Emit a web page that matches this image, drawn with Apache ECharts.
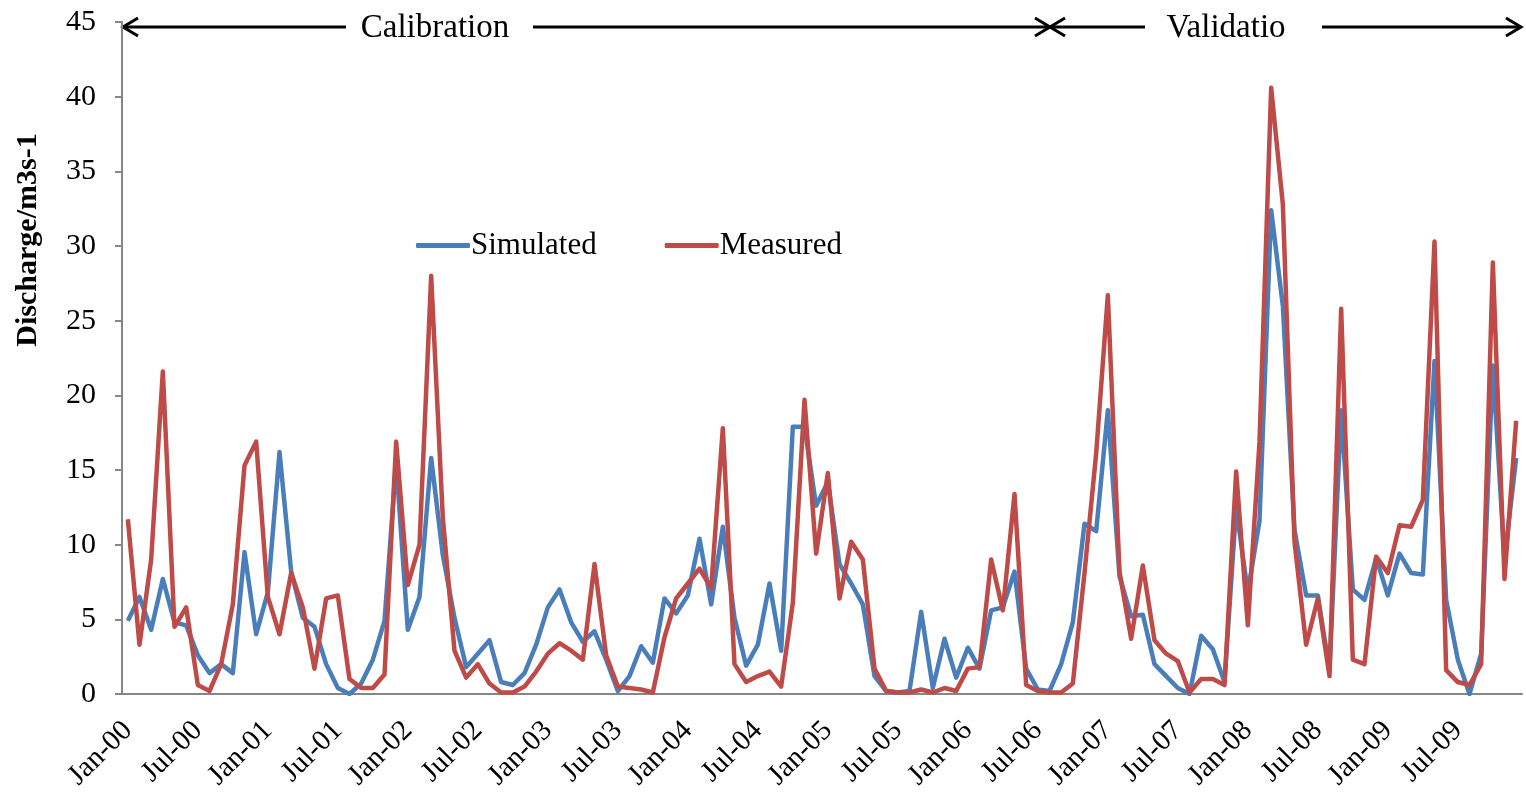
<!DOCTYPE html>
<html>
<head>
<meta charset="utf-8">
<title>Discharge</title>
<script src="https://cdn.jsdelivr.net/npm/echarts@6/dist/echarts.min.js"></script>
<style>
  html, body { margin: 0; padding: 0; background: #fff; }
  #main { width: 1526px; height: 798px; }
</style>
</head>
<body>
<div id="main"></div>
<script>
// month labels, Jan-00 .. Dec-09
var MONTHS = ['Jan', 'Feb', 'Mar', 'Apr', 'May', 'Jun', 'Jul', 'Aug', 'Sep', 'Oct', 'Nov', 'Dec'];
var YEARS = ['00', '01', '02', '03', '04', '05', '06', '07', '08', '09'];
var categories = [];
YEARS.forEach(function (y) {
  MONTHS.forEach(function (m) { categories.push(m + '-' + y); });
});

// one value per month
var simulated = [
  4.9, 6.5, 4.3, 7.7, 4.8, 4.6, 2.6, 1.4, 2.0, 1.4, 9.5, 4.0,
  6.8, 16.2, 8.2, 5.1, 4.5, 2.0, 0.4, 0.0, 0.7, 2.3, 4.9, 15.5,
  4.3, 6.5, 15.8, 9.3, 5.1, 1.8, 2.7, 3.6, 0.8, 0.6, 1.4, 3.3,
  5.8, 7.0, 4.8, 3.5, 4.2, 2.3, 0.2, 1.2, 3.2, 2.1, 6.4, 5.4,
  6.6, 10.4, 6.0, 11.2, 5.1, 1.9, 3.3, 7.4, 2.9, 17.9, 17.9, 12.6,
  14.2, 8.7, 7.4, 6.0, 1.2, 0.2, 0.1, 0.2, 5.5, 0.4, 3.7, 1.1,
  3.1, 1.7, 5.6, 5.8, 8.2, 1.7, 0.3, 0.2, 2.0, 4.8, 11.4, 10.9,
  19.0, 7.9, 5.2, 5.3, 2.0, 1.2, 0.4, 0.0, 3.9, 3.0, 0.8, 12.5,
  6.8, 11.6, 32.4, 26.0, 11.0, 6.6, 6.6, 1.6, 19.0, 7.0, 6.3, 9.1,
  6.6, 9.4, 8.1, 8.0, 22.3, 6.3, 2.3, 0.0, 2.7, 22.0, 9.0, 15.8
];
var measured = [
  11.7, 3.3, 9.0, 21.6, 4.5, 5.8, 0.6, 0.2, 2.0, 6.0, 15.3, 16.9,
  6.5, 4.0, 8.1, 5.8, 1.7, 6.4, 6.6, 1.0, 0.4, 0.4, 1.3, 16.9,
  7.3, 10.0, 28.0, 11.8, 2.9, 1.1, 2.0, 0.7, 0.1, 0.1, 0.5, 1.5,
  2.7, 3.4, 2.9, 2.3, 8.7, 2.6, 0.5, 0.4, 0.3, 0.1, 3.8, 6.4,
  7.4, 8.4, 7.1, 17.8, 2.0, 0.8, 1.2, 1.5, 0.5, 6.1, 19.7, 9.4,
  14.8, 6.4, 10.2, 9.0, 1.7, 0.2, 0.1, 0.1, 0.3, 0.1, 0.4, 0.2,
  1.7, 1.8, 9.0, 5.6, 13.4, 0.6, 0.2, 0.1, 0.1, 0.7, 8.1, 16.1,
  26.7, 8.2, 3.7, 8.6, 3.6, 2.7, 2.2, 0.1, 1.0, 1.0, 0.6, 14.9,
  4.6, 16.9, 40.6, 32.8, 10.2, 3.3, 6.4, 1.2, 25.8, 2.3, 2.0, 9.2,
  8.1, 11.3, 11.2, 13.0, 30.3, 1.6, 0.8, 0.6, 2.0, 28.9, 7.7, 18.3
];

var FONT = '"Liberation Serif", "Times New Roman", serif';
var AXIS_GREY = '#868686';

var chart = echarts.init(document.getElementById('main'));

// top annotation: calibration / validation arrows
function seg(x1, x2) {
  return { type: 'line', shape: { x1: x1, y1: 27, x2: x2, y2: 27 }, style: { stroke: '#000', lineWidth: 3 } };
}
function head(xTip, dir) {
  return {
    type: 'polyline',
    shape: { points: [[xTip - dir * 15, 18], [xTip, 27], [xTip - dir * 15, 36]] },
    style: { stroke: '#000', lineWidth: 3, fill: null }
  };
}
function label(x, txt) {
  return {
    type: 'text', x: x, y: 28,
    style: { text: txt, font: '33px ' + FONT, fill: '#000', align: 'center', verticalAlign: 'middle' }
  };
}

var option = {
  animation: false,
  color: ['#4A7EBB', '#BE4B48'],
  grid: { left: 122, right: 4, top: 22, bottom: 104, containLabel: false },
  legend: {
    left: 411, top: 225,
    icon: 'roundRect',
    itemWidth: 54, itemHeight: 5, itemGap: 68,
    textStyle: { fontFamily: FONT, fontSize: 31, color: '#000', padding: [0, 0, 0, -4] },
    data: ['Simulated', 'Measured']
  },
  xAxis: {
    type: 'category',
    data: categories,
    boundaryGap: true,
    axisLine: { lineStyle: { color: AXIS_GREY, width: 2 } },
    axisTick: { interval: 5, length: 8, lineStyle: { color: AXIS_GREY, width: 2 } },
    axisLabel: { interval: 5, rotate: 45, margin: 32, fontFamily: FONT, fontSize: 29, color: '#000' },
    splitLine: { show: false }
  },
  yAxis: {
    type: 'value',
    min: 0, max: 45, interval: 5,
    axisLine: { show: true, lineStyle: { color: AXIS_GREY, width: 2 } },
    axisTick: { show: true, length: 7, lineStyle: { color: AXIS_GREY, width: 2 } },
    axisLabel: { margin: 26, fontFamily: FONT, fontSize: 30, color: '#000' },
    splitLine: { show: false }
  },
  graphic: [
    {
      type: 'text', x: 28, y: 240, rotation: Math.PI / 2,
      style: { text: 'Discharge/m3s-1', font: 'bold 30px ' + FONT, fill: '#000', align: 'center', verticalAlign: 'middle' }
    },
    seg(124, 346), label(435, 'Calibration'), seg(533, 1048),
    head(123, -1), head(1050, 1), head(1050, -1),
    seg(1052, 1145), label(1226, 'Validatio'), seg(1322, 1520),
    head(1521, 1)
  ],
  series: [
    {
      name: 'Simulated', type: 'line', data: simulated,
      symbol: 'none', lineStyle: { width: 4.5, join: 'round' }
    },
    {
      name: 'Measured', type: 'line', data: measured,
      symbol: 'none', lineStyle: { width: 4.5, join: 'round' }
    }
  ]
};
chart.setOption(option);
</script>
</body>
</html>
